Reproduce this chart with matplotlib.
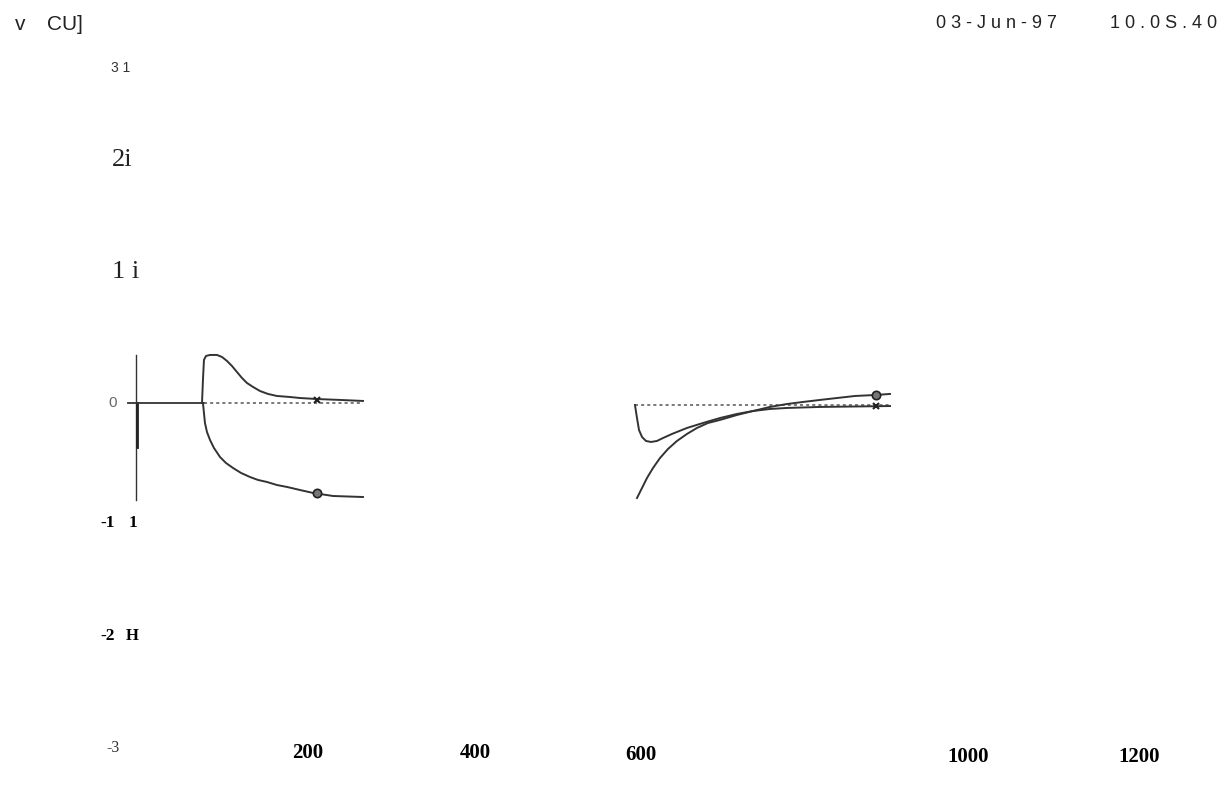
import matplotlib.pyplot as plt
import numpy as np

# left panel (pulse on)
on_t = [81, 82.1, 83.3, 85.7, 90.5, 98.8, 104.8, 110.7, 116.7, 122.6, 128.6, 134.5,
        141.7, 150, 159.5, 170.2, 185.7, 197.6, 217.9, 245.2, 272.6]
on_upper = [0, 0.204, 0.381, 0.416, 0.425, 0.425, 0.407, 0.372, 0.327, 0.274, 0.221, 0.177,
            0.142, 0.106, 0.080, 0.062, 0.053, 0.044, 0.035, 0.027, 0.018]
on_lower_t = [82.1, 83.3, 84.5, 86.9, 90.5, 95.2, 102.4, 109.5, 117.9, 127.4, 138.1, 147.6,
              158.3, 170.2, 182.1, 197.6, 213.1, 236.9, 272.6]
on_lower = [0, -0.088, -0.177, -0.257, -0.327, -0.398, -0.478, -0.531, -0.575, -0.619, -0.655,
            -0.681, -0.699, -0.726, -0.743, -0.770, -0.796, -0.823, -0.832]

# right panel (pulse off)
off_a_t = [596.4, 598.8, 601.2, 604.8, 609.5, 615.5, 622.6, 629.8, 640.5, 658.3, 677.4, 697.6,
           717.9, 736.9, 757.1, 777.4, 816.7, 900]
off_a = [-0.018, -0.133, -0.239, -0.301, -0.336, -0.345, -0.336, -0.310, -0.274, -0.221, -0.177,
         -0.133, -0.097, -0.071, -0.053, -0.044, -0.035, -0.027]
off_b_t = [598.8, 604.8, 610.7, 617.9, 626.2, 635.7, 646.4, 658.3, 670.2, 683.3, 697.6, 717.9,
           736.9, 757.1, 777.4, 796.4, 816.7, 836.9, 858.3, 883.3, 900]
off_b = [-0.841, -0.752, -0.664, -0.575, -0.487, -0.407, -0.336, -0.274, -0.221, -0.177, -0.150,
         -0.106, -0.071, -0.035, -0.009, 0.009, 0.027, 0.044, 0.062, 0.071, 0.080]

mark_t = [218, 883]
mark_x = [0.03, -0.027]
mark_o = [-0.80, 0.071]

W, H = 1225, 788
fig = plt.figure(figsize=(W / 100, H / 100), dpi=100)
ax = fig.add_axes([0, 0, 1, 1])
ax.set_xlim(-159.5, 1298.8)
ax.set_ylim(-3.407, 3.566)
ax.axis('off')

lc = '#333333'
ax.plot([2, 2], [0.425, -0.86], color=lc, lw=1.0)
ax.plot([3, 3], [0, -0.39], color='#222222', lw=2.0)
ax.plot([-7, 83], [0, 0], color=lc, lw=1.3)
ax.plot([83, 273], [0, 0], color='#555555', lw=1.1, ls=(0, (2, 2)))
ax.plot(on_t, on_upper, color=lc, lw=1.4)
ax.plot(on_lower_t, on_lower, color=lc, lw=1.4)

ax.plot([596, 900], [-0.02, -0.02], color='#555555', lw=1.1, ls=(0, (2, 2)))
ax.plot(off_a_t, off_a, color=lc, lw=1.4)
ax.plot(off_b_t, off_b, color=lc, lw=1.4)

ax.plot(mark_t, mark_x, 'x', color='#222222', ms=5, mew=1.5)
ax.plot(mark_t, mark_o, 'o', color='#222222', ms=6, mfc='#777777', mew=1.2)

def ft(x, y, s, **kw):
    fig.text(x / W, 1 - y / H, s, va='center', **kw)

sans = 'Liberation Sans'
serif = 'Liberation Serif'
ft(15, 24, 'v', fontsize=15, family=sans, color='#222222')
ft(47, 24, 'CU]', fontsize=15, family=sans, color='#222222')
ft(1057, 24, '0 3 - J u n - 9 7', fontsize=13, family=sans, ha='right', color='#222222')
ft(1217, 24, '1 0 . 0 S . 4 0', fontsize=13, family=sans, ha='right', color='#222222')
ft(111, 68, '3 1', fontsize=10, family=sans, color='#333333')
ft(112, 160, '2i', fontsize=19, family=serif, color='#222222')
ft(112, 272, '1 i', fontsize=19, family=serif, color='#222222')
ft(108, 403, '0', fontsize=11, family=sans, color='#666666')
ft(100, 523, '-1', fontsize=12.5, family=serif, weight='bold')
ft(129, 523, '1', fontsize=12.5, family=serif, weight='bold')
ft(100, 636, '-2', fontsize=12.5, family=serif, weight='bold')
ft(126, 636, 'H', fontsize=12, family=serif, weight='bold')
ft(106, 748, '-3', fontsize=11.5, family=serif, color='#333333')

xt_labels = ['200', '400', '600', '1000', '1200']
xt_pos = [(308, 753), (475, 753), (641, 755), (968, 757), (1139, 757)]
for lab, (px, py) in zip(xt_labels, xt_pos):
    ft(px, py, lab, fontsize=15, family=serif, weight='bold', ha='center')

fig.savefig('out.png', dpi=100)
